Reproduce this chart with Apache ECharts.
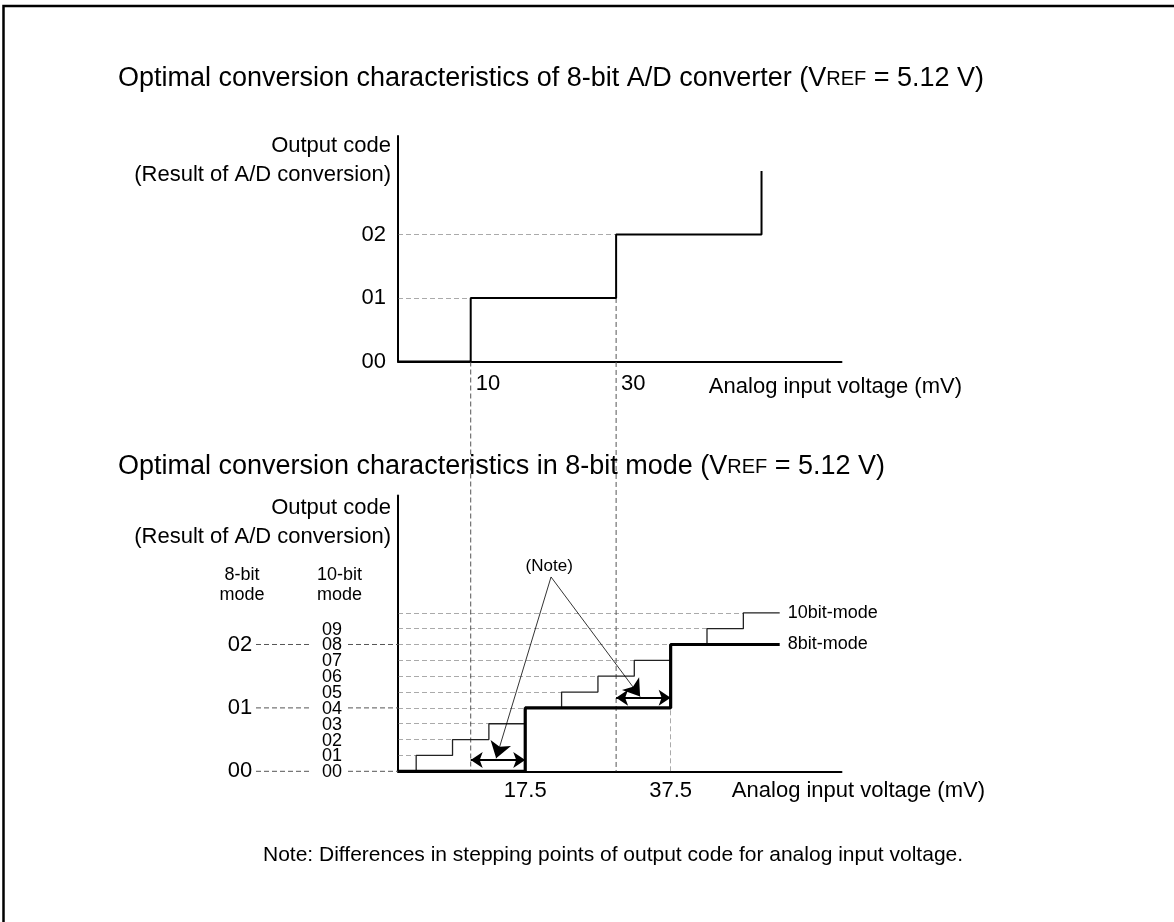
<!DOCTYPE html>
<html>
<head>
<meta charset="utf-8">
<script src="https://cdn.jsdelivr.net/npm/echarts@6/dist/echarts.min.js"></script>
<style>
  html, body { margin: 0; padding: 0; background: #fff; }
  #chart { width: 1174px; height: 922px; }
</style>
</head>
<body>
<div id="chart"></div>
<script>
// ---- Data -------------------------------------------------------------
// Ideal 8-bit A/D converter, VREF = 5.12 V -> 20 mV per LSB, first transition at 10 mV
const adcStepVoltage = [0, 10, 30, 50];          // mV where the code steps up
const adcStepCode    = [0, 1, 2, 3];             // output code after each step
const adcCodeLabels  = ['00', '01', '02'];
const adcVoltLabels  = [10, 30];

// 8-bit mode vs 10-bit mode (codes expressed in 10-bit LSBs)
const mode10StepVoltage = [0, 2.5, 7.5, 12.5, 17.5, 22.5, 27.5, 32.5, 37.5, 42.5, 47.5, 52.5];
const mode10StepCode    = [0, 1, 2, 3, 4, 5, 6, 7, 8, 9, 10, 10];
const mode8StepVoltage  = [0, 17.5, 37.5, 52.5];
const mode8StepCode     = [0, 4, 8, 8];          // 8-bit codes 00, 01, 02 in 10-bit units
const mode10Labels      = ['00', '01', '02', '03', '04', '05', '06', '07', '08', '09'];
const mode8Labels       = ['00', '01', '02'];
const modeVoltLabels    = [17.5, 37.5];

// Transition shift between the two modes (double arrows) and the note callout
const shiftArrows = [[10, 17.5, 0.71], [30, 37.5, 4.64]];   // [from mV, to mV, level]
const noteOrigin  = [21.05, 12.26];
const noteTips    = [[13.5, 0.82], [33.3, 4.72]];
const noteText    = [20.8, 12.95];

// ---- Helpers ----------------------------------------------------------
const FONT = "'Liberation Sans', Arial, Helvetica, sans-serif";
const zip = (xs, ys) => xs.map((x, i) => [x, ys[i]]);
const DASH = { color: '#555', width: 1, type: [5, 3] };

// dashed guides inside the top chart: from the y-axis to each riser
const topGuides = [
  { coords: [[0, 1], [adcStepVoltage[1], 1]] },
  { coords: [[0, 2], [adcStepVoltage[2], 2]] }
];
// dashed guides inside the lower chart: every 10-bit level up to its riser
const lowGuides = mode10StepCode.slice(1, 11).map((c, i) => ({
  coords: [[0, c], [mode10StepVoltage[i + 1], c]]
}));
lowGuides.push({ coords: [[mode8StepVoltage[2], 0], [mode8StepVoltage[2], mode8StepCode[1]]] });

const axisLineStyle = { show: true, lineStyle: { color: '#000', width: 2 } };
const txt = { color: '#000', fontFamily: FONT };

const option = {
  animation: false,
  backgroundColor: '#fff',
  grid: [
    { left: 398, top: 136, width: 443.5, height: 225.5 },
    { left: 398, top: 495.5, width: 443.5, height: 275.8 }
  ],
  xAxis: [
    {
      gridIndex: 0, type: 'value', min: 0, max: 61, interval: 10,
      axisLine: axisLineStyle, axisTick: { show: false }, splitLine: { show: false },
      axisLabel: {
        ...txt, fontSize: 22, margin: 11, align: 'left', padding: [0, 0, 0, 5],
        formatter: v => adcVoltLabels.includes(v) ? String(v) : ''
      }
    },
    {
      gridIndex: 1, type: 'value', min: 0, max: 61, interval: 2.5,
      axisLine: axisLineStyle, axisTick: { show: false }, splitLine: { show: false },
      axisLabel: {
        ...txt, fontSize: 22, margin: 9, align: 'center',
        formatter: v => modeVoltLabels.includes(v) ? String(v) : ''
      }
    }
  ],
  yAxis: [
    {
      gridIndex: 0, type: 'value', position: 'left', min: 0, max: 3.55, interval: 1,
      axisLine: axisLineStyle, axisTick: { show: false }, splitLine: { show: false },
      axisLabel: {
        ...txt, fontSize: 22, margin: 12, showMinLabel: true,
        formatter: v => adcCodeLabels[v] || ''
      }
    },
    {
      gridIndex: 1, type: 'value', position: 'left', min: 0, max: 17.4, interval: 1,
      axisLine: axisLineStyle, axisTick: { show: false }, splitLine: { show: false },
      axisLabel: { show: false }
    },
    {
      // 8-bit code column
      gridIndex: 1, type: 'value', position: 'left', offset: 0, min: 0, max: 17.4, interval: 1,
      axisLine: { show: false }, axisTick: { show: false }, splitLine: { show: false },
      axisLabel: {
        ...txt, fontSize: 22, margin: 158, align: 'center', showMinLabel: true,
        formatter: v => (v % 4 === 0 && mode8Labels[v / 4]) ? mode8Labels[v / 4] : ''
      }
    }
  ],
  series: [
    {
      type: 'lines', coordinateSystem: 'cartesian2d', xAxisIndex: 0, yAxisIndex: 0,
      silent: true, lineStyle: DASH, data: topGuides, z: 1
    },
    {
      type: 'line', name: '8-bit A/D', xAxisIndex: 0, yAxisIndex: 0, step: 'end',
      data: zip(adcStepVoltage, adcStepCode), showSymbol: false, silent: true,
      lineStyle: { color: '#000', width: 2 }, z: 3
    },
    {
      type: 'lines', coordinateSystem: 'cartesian2d', xAxisIndex: 1, yAxisIndex: 1,
      silent: true, lineStyle: DASH, data: lowGuides, z: 1
    },
    {
      type: 'line', name: '10bit-mode', xAxisIndex: 1, yAxisIndex: 1, step: 'end',
      data: zip(mode10StepVoltage, mode10StepCode), showSymbol: false, silent: true,
      lineStyle: { color: '#222', width: 1.3 }, z: 3,
      endLabel: { show: true, ...txt, fontSize: 18, distance: 8, formatter: '10bit-mode' }
    },
    {
      type: 'line', name: '8bit-mode', xAxisIndex: 1, yAxisIndex: 1, step: 'end',
      data: zip(mode8StepVoltage, mode8StepCode), showSymbol: false, silent: true,
      lineStyle: { color: '#000', width: 3.2 }, z: 4,
      endLabel: { show: true, ...txt, fontSize: 18, distance: 8, formatter: '8bit-mode' }
    },
    {
      // double arrows showing the shift of the stepping points
      type: 'line', xAxisIndex: 1, yAxisIndex: 1, data: [], silent: true, z: 5,
      markLine: {
        silent: true, symbol: ['arrow', 'arrow'], symbolSize: 12, label: { show: false },
        lineStyle: { color: '#000', width: 2.2, type: 'solid' },
        data: shiftArrows.map(([a, b, y]) => [{ coord: [a, y] }, { coord: [b, y] }])
      }
    },
    {
      // "(Note)" callout arrows
      type: 'line', xAxisIndex: 1, yAxisIndex: 1, data: [], silent: true, z: 5,
      markLine: {
        silent: true, symbol: ['none', 'arrow'], symbolSize: 16, label: { show: false },
        lineStyle: { color: '#000', width: 0.8, type: 'solid' },
        data: noteTips.map(t => [{ coord: noteOrigin }, { coord: t }])
      }
    }
  ]
};

const chart = echarts.init(document.getElementById('chart'));
chart.setOption(option);

// ---- Text and guides that span both charts ---------------------------
const pTop = p => chart.convertToPixel({ xAxisIndex: 0, yAxisIndex: 0 }, p);
const pLow = p => chart.convertToPixel({ xAxisIndex: 1, yAxisIndex: 1 }, p);
const dashShape = (a, b) => ({
  type: 'line', silent: true, z: 1,
  shape: { x1: a[0], y1: a[1], x2: b[0], y2: b[1] },
  style: { stroke: '#555', lineWidth: 1, lineDash: [5, 3] }
});
const text = (x, y, s, size, align, extra) => ({
  type: 'text', x, y, silent: true, z: 10,
  style: Object.assign({
    text: s, fill: '#000', font: `${size}px ${FONT}`,
    textAlign: align || 'left', textVerticalAlign: 'middle'
  }, extra || {})
});
const titleRich = (x, y, head) => ({
  type: 'text', x, y, silent: true, z: 10,
  style: {
    text: `{a|${head} (V}{s|REF}{a| = 5.12 V)}`,
    textVerticalAlign: 'middle',
    rich: {
      a: { fontSize: 27, fontFamily: FONT, fill: '#000' },
      s: { fontSize: 20, fontFamily: FONT, fill: '#000' }
    }
  }
});

const graphics = [
  {
    type: 'rect', silent: true, z: 0,
    shape: { x: 3.5, y: 6, width: 1200, height: 960 },
    style: { fill: 'none', stroke: '#000', lineWidth: 2.5 }
  },
  // vertical guides carried from the 8-bit converter down to the mode chart
  dashShape(pTop([adcStepVoltage[1], 0]), pLow([adcStepVoltage[1], 0])),
  dashShape(pTop([adcStepVoltage[2], 1]), pLow([adcStepVoltage[2], 0])),
  titleRich(118, 79, 'Optimal conversion characteristics of 8-bit A/D converter'),
  titleRich(118, 467, 'Optimal conversion characteristics in 8-bit mode'),
  text(391, 146, 'Output code', 22, 'right'),
  text(391, 174.5, '(Result of A/D conversion)', 22, 'right'),
  text(962, 387, 'Analog input voltage (mV)', 22, 'right'),
  text(391, 508, 'Output code', 22, 'right'),
  text(391, 537, '(Result of A/D conversion)', 22, 'right'),
  text(242, 575, '8-bit', 18, 'center'),
  text(242, 595, 'mode', 18, 'center'),
  text(339.5, 575, '10-bit', 18, 'center'),
  text(339.5, 595, 'mode', 18, 'center'),
  text(985, 791, 'Analog input voltage (mV)', 22, 'right'),
  text(263, 855, 'Note: Differences in stepping points of output code for analog input voltage.', 21, 'left')
];
// 10-bit code column, one label per 10-bit level
mode10Labels.forEach((s, i) => {
  graphics.push(text(332, pLow([0, i])[1] + 1, s, 18, 'center'));
});
// leader dashes from the 8-bit codes through the 10-bit codes to the axis
[0, 4, 8].forEach(c => {
  const y = pLow([0, c])[1];
  graphics.push(dashShape([256, y], [311, y]));
  graphics.push(dashShape([348, y], [pLow([0, c])[0], y]));
});
const nt = pLow(noteText);
graphics.push(text(nt[0], nt[1], '(Note)', 17, 'center'));

chart.setOption({ graphic: graphics });
</script>
</body>
</html>
